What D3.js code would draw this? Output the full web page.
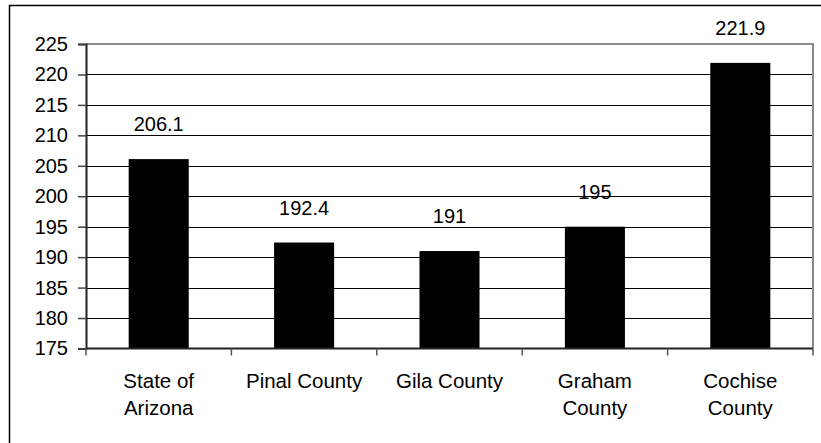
<!DOCTYPE html>
<html>
<head>
<meta charset="utf-8">
<script src="https://cdn.jsdelivr.net/npm/d3@7"></script>
<style>
  html, body { margin: 0; padding: 0; background: #fff; }
  svg text { font-family: "Liberation Sans", Arial, sans-serif; fill: #000; }
</style>
</head>
<body>
<svg id="chart" width="821" height="443"></svg>
<script>
const categories = ["State of Arizona", "Pinal County", "Gila County", "Graham County", "Cochise County"];
const labelLines = [["State of", "Arizona"], ["Pinal County"], ["Gila County"], ["Graham", "County"], ["Cochise", "County"]];
const values = [206.1, 192.4, 191, 195, 221.9];
const yTicks = [175, 180, 185, 190, 195, 200, 205, 210, 215, 220, 225];

const svg = d3.select("#chart");
const plot = { left: 86, right: 813, top: 44, bottom: 348.5 };

// outer chart border (extends beyond the right/bottom of the window)
svg.append("rect")
  .attr("x", 9.5).attr("y", 5.5)
  .attr("width", 830).attr("height", 460)
  .attr("fill", "none").attr("stroke", "#000").attr("stroke-width", 1.5);

const y = d3.scaleLinear().domain([yTicks[0], yTicks[yTicks.length - 1]]).range([plot.bottom, plot.top]);
const x = d3.scaleBand().domain(categories).range([plot.left, plot.right])
  .paddingInner(0.587).paddingOuter(0.2935);

// gridlines
svg.append("g").selectAll("line")
  .data(yTicks.slice(1, -1))
  .join("line")
  .attr("x1", plot.left).attr("x2", plot.right)
  .attr("y1", d => Math.round(y(d)) + 0.5).attr("y2", d => Math.round(y(d)) + 0.5)
  .attr("stroke", "#000").attr("stroke-width", 1);

// plot frame top & right (gray)
svg.append("path")
  .attr("d", `M${plot.left},${plot.top} H${plot.right} V${plot.bottom}`)
  .attr("fill", "none").attr("stroke", "#8a8a8a").attr("stroke-width", 2);

// bars
svg.append("g").selectAll("rect")
  .data(values)
  .join("rect")
  .attr("x", (d, i) => x(categories[i]))
  .attr("width", x.bandwidth())
  .attr("y", d => y(d))
  .attr("height", d => y(yTicks[0]) - y(d))
  .attr("fill", "#000");

// value labels
svg.append("g").selectAll("text")
  .data(values)
  .join("text")
  .attr("x", (d, i) => x(categories[i]) + x.bandwidth() / 2)
  .attr("y", d => y(d) - 28)
  .attr("text-anchor", "middle")
  .attr("font-size", 20)
  .text(d => String(d));

// y axis
const yAxis = svg.append("g")
  .attr("transform", `translate(${plot.left},0)`)
  .call(d3.axisLeft(y).tickValues(yTicks).tickSize(8).tickPadding(10).tickFormat(d3.format("d")));
yAxis.select(".domain").attr("stroke", "#222").attr("stroke-width", 2);
yAxis.selectAll(".tick line").attr("stroke", "#444").attr("stroke-width", 1.5);
yAxis.selectAll(".tick text").attr("font-size", 20).attr("font-family", "Liberation Sans, Arial, sans-serif").attr("fill", "#000");

// x axis line
svg.append("line")
  .attr("x1", plot.left).attr("x2", plot.right)
  .attr("y1", plot.bottom).attr("y2", plot.bottom)
  .attr("stroke", "#222").attr("stroke-width", 2);

// x tick marks at category boundaries
const step = x.step();
const boundaries = categories.map(c => x(c) + x.bandwidth() / 2 - step / 2).concat([plot.right]);
svg.append("g").selectAll("line")
  .data(boundaries)
  .join("line")
  .attr("x1", d => d).attr("x2", d => d)
  .attr("y1", plot.bottom).attr("y2", plot.bottom + 7)
  .attr("stroke", "#555").attr("stroke-width", 1.5);

// category labels
const cat = svg.append("g").selectAll("text")
  .data(categories)
  .join("text")
  .attr("text-anchor", "middle")
  .attr("font-size", 20.5)
  .attr("x", c => x(c) + x.bandwidth() / 2)
  .attr("y", 388);
cat.each(function (c, i) {
  const t = d3.select(this);
  labelLines[i].forEach((line, j) => {
    t.append("tspan")
      .attr("x", x(c) + x.bandwidth() / 2)
      .attr("dy", j === 0 ? 0 : 26.5)
      .text(line);
  });
});
</script>
</body>
</html>
